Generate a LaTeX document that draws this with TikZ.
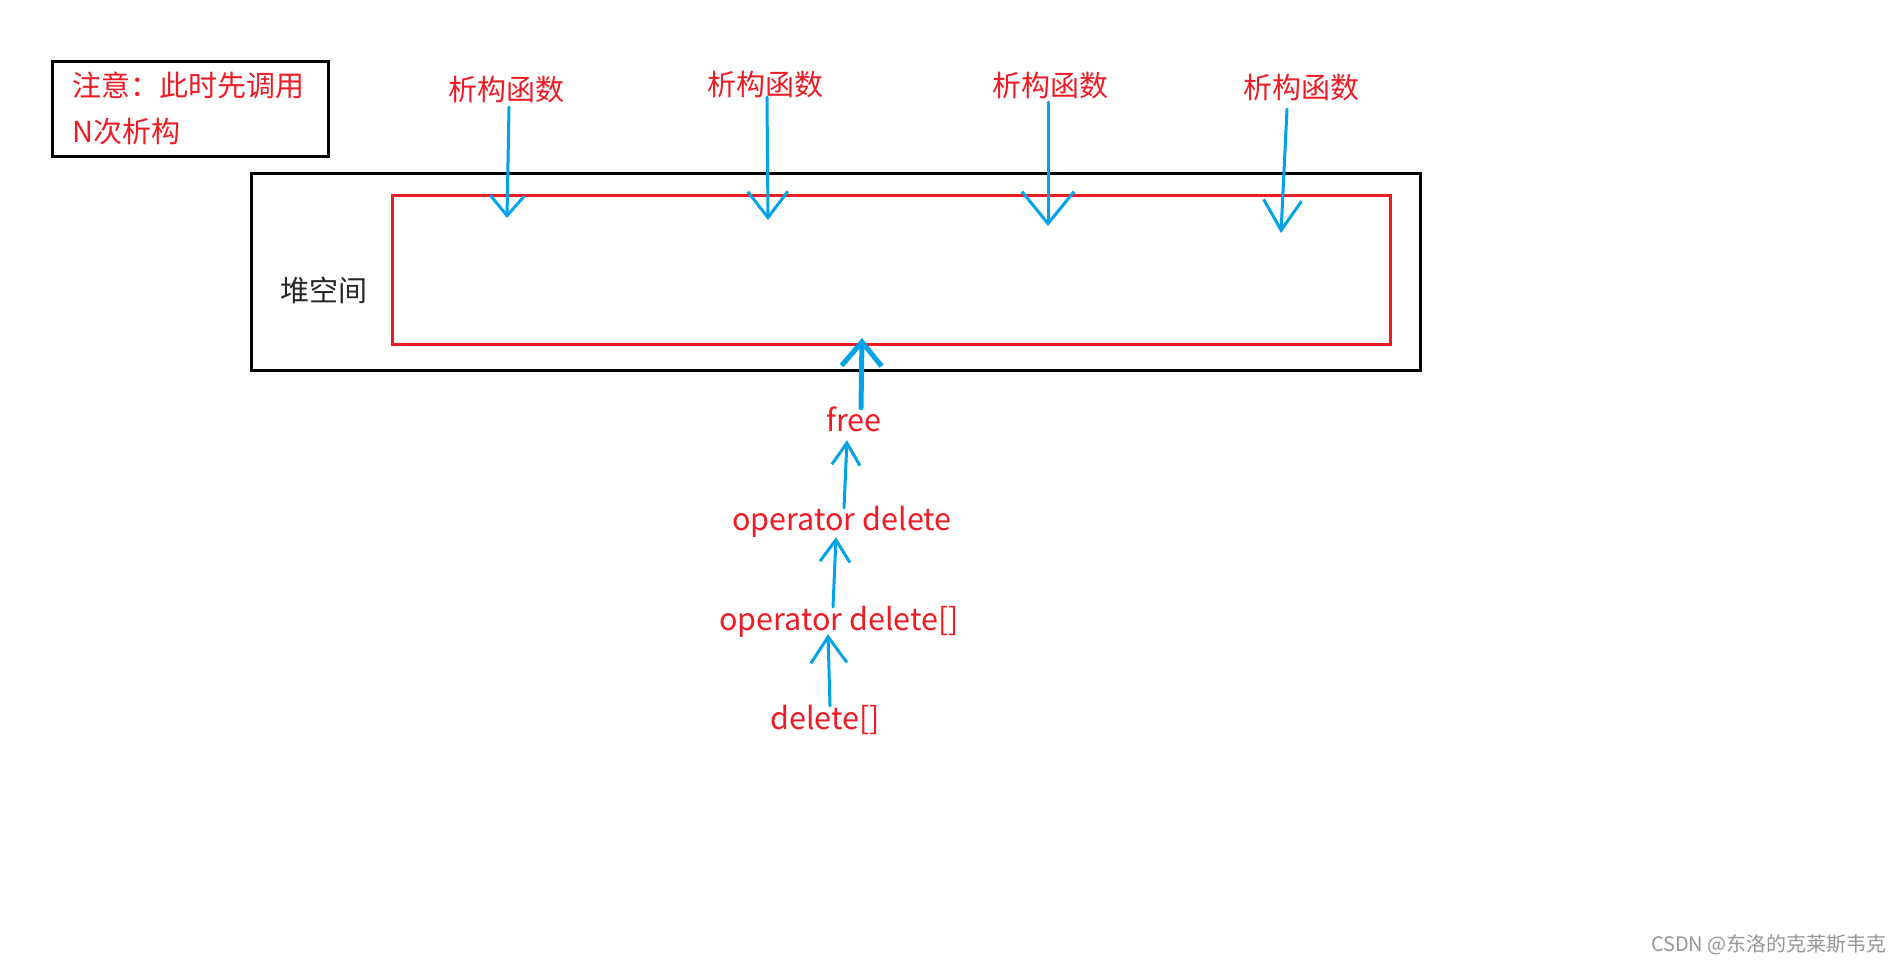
\documentclass[tikz,border=0pt]{standalone}
\usepackage{fontspec}
\newfontfamily\cjk{Noto Sans CJK SC}
\usetikzlibrary{arrows.meta}
\definecolor{pred}{RGB}{237,28,36}
\definecolor{pblue}{RGB}{0,162,232}
\definecolor{wgray}{RGB}{150,150,150}
\begin{document}
\begin{tikzpicture}[x=1pt,y=-1pt,
  lbl/.style={font=\cjk\fontsize{29}{34}\selectfont, text=pred, inner sep=0pt, text height=25.5pt, text depth=3.5pt},
  lat/.style={font=\cjk\fontsize{30.5}{34}\selectfont, text=pred, inner sep=0pt, text height=25.5pt, text depth=3.5pt},
  blk/.style={font=\cjk\fontsize{29}{34}\selectfont, text=black!85, inner sep=0pt},
  bl/.style={draw=pblue, line width=3pt, line cap=round}
]
\useasboundingbox (0,0) rectangle (1902,964);
\fill[white] (0,0) rectangle (1902,964);

% note box
\node[draw=black, line width=3pt, minimum width=276pt, minimum height=95pt, inner sep=0pt] (note) at (190,108.5) {};
\node[lbl, anchor=west] (n1) at (72,85) {注意：此时先调用};
\node[lbl, anchor=west] (n2) at (72,131) {N次析构};

% heap boxes
\node[draw=black, line width=3pt, minimum width=1169pt, minimum height=197pt, inner sep=0pt] (heap) at (835.5,271.5) {};
\node[draw=pred, line width=3pt, minimum width=998pt, minimum height=149pt, inner sep=0pt] (red) at (891,269.5) {};
\node[blk] (hs) at (323.5,290) {堆空间};

% destructor labels
\node[lbl] (d1) at (506,89) {析构函数};
\node[lbl] (d2) at (765,84) {析构函数};
\node[lbl] (d3) at (1050,85) {析构函数};
\node[lbl] (d4) at (1301,87) {析构函数};

\coordinate (t1) at (507,218);
\coordinate (t2) at (768,220);
\coordinate (t3) at (1048,226);
\coordinate (t4) at (1281,233);

\draw[bl, -{Straight Barb[length=20pt,width=34pt]}] ([xshift=3pt,yshift=-3.5pt]d1.south) -- (t1);
\draw[bl, -{Straight Barb[length=26pt,width=40pt]}] ([xshift=2pt,yshift=1.5pt]d2.south) -- (t2);
\draw[bl, -{Straight Barb[length=32pt,width=52pt]}] ([xshift=-2pt,yshift=-2.5pt]d3.south) -- (t3);
\draw[bl, -{Straight Barb[length=30pt,width=38pt]}] ([xshift=-14pt,yshift=-7.5pt]d4.south) -- (t4);

% bottom chain
\node[lat] (free) at (854,420) {free};
\node[lat] (opd) at (842,519) {operator delete};
\node[lat] (opda) at (839,619) {operator delete[]};
\node[lat] (del) at (825,718) {delete[]};

\coordinate (rb) at (862,338);

\draw[bl, line width=5pt, -{Straight Barb[length=24pt,width=40pt]}] ([xshift=7pt,yshift=-2.5pt]free.north) -- (rb);
\draw[bl, -{Straight Barb[length=22pt,width=28pt]}] ([xshift=2pt,yshift=-3.5pt]opd.north) -- ([xshift=-7pt,yshift=-5.5pt]free.south);
\draw[bl, -{Straight Barb[length=22pt,width=30pt]}] ([xshift=-6pt,yshift=-2.5pt]opda.north) -- ([xshift=-6pt,yshift=-3.5pt]opd.south);
\draw[bl, -{Straight Barb[length=26pt,width=36pt]}] ([xshift=5pt,yshift=-2.5pt]del.north) -- ([xshift=-11pt,yshift=-0.5pt]opda.south);

% watermark
\node[font=\cjk\fontsize{20}{24}\selectfont, text=wgray, anchor=east, inner sep=0pt] (wm) at (1887,945) {CSDN @东洛的克莱斯韦克};
\end{tikzpicture}
\end{document}
